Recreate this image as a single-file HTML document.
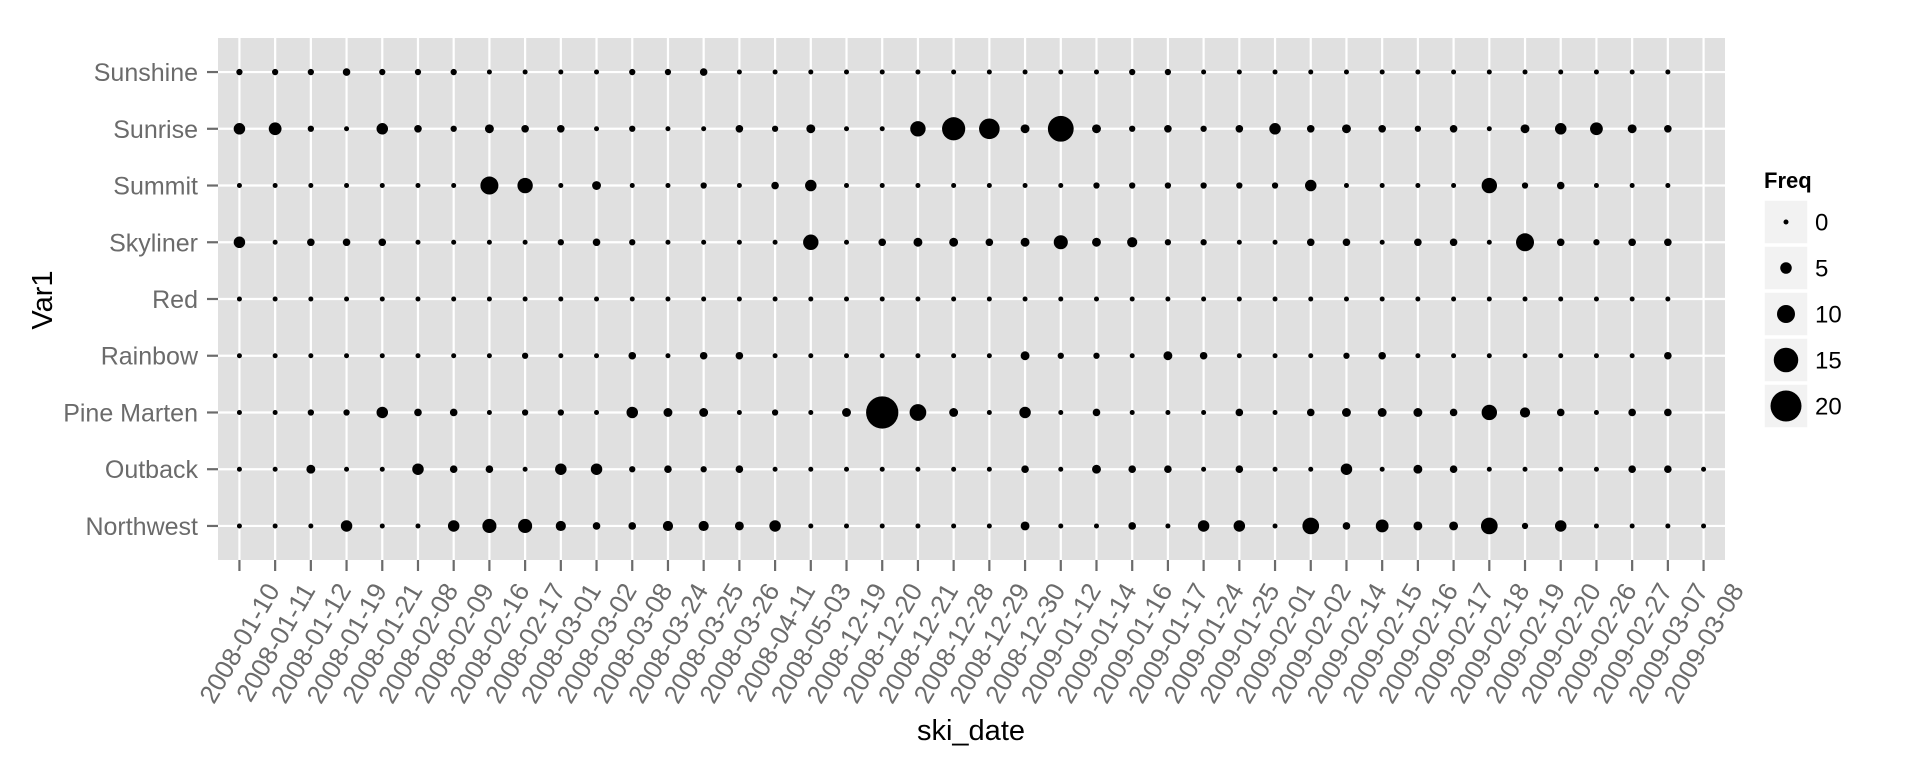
<!DOCTYPE html>
<html><head><meta charset="utf-8"><style>
html,body{margin:0;padding:0;background:#fff;}
svg{display:block;font-family:"Liberation Sans",sans-serif;}
</style></head><body>
<svg id="chart" width="1920" height="768" viewBox="0 0 1920 768" xmlns="http://www.w3.org/2000/svg">
<rect x="218" y="38" width="1507" height="522" fill="#e0e0e0"/>
<g id="grid"></g>
<g id="yaxis"></g>
<g id="xaxis"></g>
<g id="dots"></g>
<text x="971" y="740" font-size="29" text-anchor="middle" fill="#000">ski_date</text>
<text x="52" y="300" font-size="29" text-anchor="middle" fill="#000" transform="rotate(-90 52 300)">Var1</text>
<g id="legend">
<text x="1764" y="188" font-size="22" font-weight="bold" fill="#000">Freq</text>
</g>
</svg>
<script>
const dates = ["2008-01-10","2008-01-11","2008-01-12","2008-01-19","2008-01-21","2008-02-08","2008-02-09","2008-02-16","2008-02-17","2008-03-01","2008-03-02","2008-03-08","2008-03-24","2008-03-25","2008-03-26","2008-04-11","2008-05-03","2008-12-19","2008-12-20","2008-12-21","2008-12-28","2008-12-29","2008-12-30","2009-01-12","2009-01-14","2009-01-16","2009-01-17","2009-01-24","2009-01-25","2009-02-01","2009-02-02","2009-02-14","2009-02-15","2009-02-16","2009-02-17","2009-02-18","2009-02-19","2009-02-20","2009-02-26","2009-02-27","2009-03-07","2009-03-08"];
const resorts = ["Sunshine","Sunrise","Summit","Skyliner","Red","Rainbow","Pine Marten","Outback","Northwest"];
const sunshine   = [1,1,1,2,1,1,1,0,0,0,0,1,1,2, 0,0,0,0,0,0,0,0,0,0,0,1,1,0, 0,0,0,0,0,0,0,0,0,0,0,0,0,null];
const sunrise    = [5,6,1,0,5,2,1,3,2,2,0,1,0,0, 2,1,3,0,0,8,14,12,3,16,3,1,2, 1,2,5,2,3,2,1,2,0,3,5,6,3,2,null];
const summit     = [0,0,0,0,0,0,0,10,8,0,3,0,0,1, 0,2,5,0,0,0,0,0,0,0,1,1,1, 1,1,1,5,0,0,0,0,8,1,2,0,0,0,null];
const skyliner   = [5,0,2,2,2,0,0,0,0,1,2,1,0,0, 0,0,8,0,2,3,3,2,3,7,3,4,1, 1,0,0,2,2,0,2,2,0,10,2,1,2,2,null];
const red        = [0,0,0,0,0,0,0,0,0,0,0,0,0,0, 0,0,0,0,0,0,0,0,0,0,0,0,0, 0,0,0,0,0,0,0,0,0,0,0,0,0,0,null];
const rainbow    = [0,0,0,0,0,0,0,0,1,0,0,2,0,2, 2,0,0,0,0,0,0,0,3,1,1,0,3, 2,0,0,0,1,2,0,0,0,0,0,0,0,2,null];
const pineMarten = [0,0,1,1,5,2,2,0,1,1,0,5,3,3, 0,1,0,3,21,9,3,0,5,0,2,0,0, 0,2,0,2,3,3,3,2,8,4,2,0,2,2,null];
const outback    = [0,0,3,0,0,5,2,2,0,5,5,1,2,1, 2,0,0,0,0,0,0,0,2,0,3,2,2, 0,2,0,0,5,0,3,2,0,0,0,0,2,2,0];
const northwest  = [0,0,0,5,0,0,5,7,7,4,2,2,4,4, 3,5,0,0,0,0,0,0,3,0,0,2,0, 5,5,0,9,2,6,3,3,9,1,5,0,0,0,0];
const seriesByRow = [sunshine,sunrise,summit,skyliner,red,rainbow,pineMarten,outback,northwest];
const legendValues = [0,5,10,15,20];
const legendLabels = ["0","5","10","15","20"];

const NS = "http://www.w3.org/2000/svg";
const panel = {x0:218, x1:1725, y0:38, y1:560};
function xScale(i){ const step=(panel.x1-panel.x0)/(dates.length+0.2); return panel.x0 + step*0.6 + step*i; }
function yScale(j){ const step=(panel.y1-panel.y0)/(resorts.length+0.2); return panel.y0 + step*0.6 + step*j; }
function rScale(v){ return 2.5 + 0.65*v; }
function mk(tag, attrs, parent){ const e=document.createElementNS(NS,tag); for(const k in attrs) e.setAttribute(k,attrs[k]); parent.appendChild(e); return e; }

const grid=document.getElementById('grid'), yaxis=document.getElementById('yaxis'), xaxis=document.getElementById('xaxis'), dots=document.getElementById('dots'), legend=document.getElementById('legend');

dates.forEach((d,i)=>{
  const x=xScale(i);
  const g=mk('line',{x1:x,x2:x,y1:panel.y0,y2:panel.y1,stroke:'#fff','stroke-width':2.2},grid);
  
  
  const t=mk('line',{x1:x,x2:x,y1:panel.y1,y2:panel.y1+11,stroke:'#6b6b6b','stroke-width':2.2},xaxis);
  
  
  const lx=x+41, ly=590;
  const l=mk('text',{x:lx,y:ly,'font-size':26,'text-anchor':'end',fill:'#6b6b6b',transform:`rotate(-60 ${lx} ${ly})`},xaxis);
  l.textContent=d;
  
  
});
resorts.forEach((r,j)=>{
  const y=yScale(j);
  const g=mk('line',{x1:panel.x0,x2:panel.x1,y1:y,y2:y,stroke:'#fff','stroke-width':2.2},grid);
  
  
  const t=mk('line',{x1:panel.x0-11,x2:panel.x0,y1:y,y2:y,stroke:'#6b6b6b','stroke-width':2.2},yaxis);
  
  
  const l=mk('text',{x:198,y:y+9,'font-size':25,'text-anchor':'end',fill:'#6b6b6b'},yaxis);
  l.textContent=r;
  
  
  seriesByRow[j].forEach((v,i)=>{
    if(v===null) return;
    const c=mk('circle',{cx:xScale(i),cy:y,r:rScale(v),fill:'#000'},dots);
    
    
  });
});
legendValues.forEach((v,k)=>{
  const cy=222+46*k;
  const b=mk('rect',{x:1764,y:cy-22,width:44,height:44,fill:'#f2f2f2',stroke:'#fff','stroke-width':1.5},legend);
  
  
  const c=mk('circle',{cx:1786,cy:cy,r:rScale(v),fill:'#000'},legend);
  
  
  const t=mk('text',{x:1815,y:cy+8.5,'font-size':24,fill:'#000'},legend);
  t.textContent=legendLabels[k];
  
  
});
</script>
</body></html>
